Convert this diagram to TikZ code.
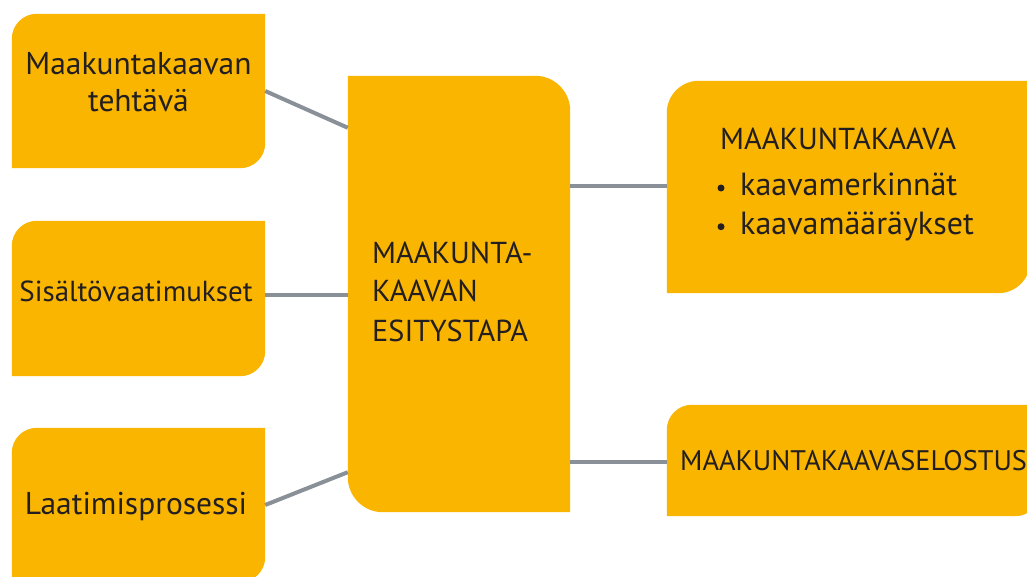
\documentclass[tikz,border=0pt]{standalone}
\usepackage{fontspec}
\setmainfont{PT Sans}
\usetikzlibrary{backgrounds,calc}
\definecolor{boxfill}{RGB}{249,181,0}
\definecolor{linkgray}{RGB}{137,144,152}
\definecolor{txt}{RGB}{35,31,32}
\newcommand\shapeTLBR[2]{%
  \fill[boxfill] (#1.south west) -- ([yshift=-#2]#1.north west)
    arc[start angle=180,end angle=90,radius=#2] -- (#1.north east)
    -- ([yshift=#2]#1.south east) arc[start angle=0,end angle=-90,radius=#2] -- cycle;}
\newcommand\shapeTRBL[2]{%
  \fill[boxfill] (#1.north west) -- ([xshift=-#2]#1.north east)
    arc[start angle=90,end angle=0,radius=#2] -- (#1.south east)
    -- ([xshift=#2]#1.south west) arc[start angle=270,end angle=180,radius=#2] -- cycle;}
\begin{document}
\begin{tikzpicture}[x=1pt,y=1pt,
  boxnode/.style={rectangle,inner sep=0pt},
  lbl/.style={inner sep=0pt,text=txt,anchor=base},
  lblw/.style={lbl,anchor=base west},
  bul/.style={circle,fill=txt,inner sep=0pt,minimum size=7pt},
  link/.style={draw=linkgray,line width=4pt}]
\useasboundingbox (0,0) rectangle (1027,576);
% boxes (pixel rows converted: y = 576 - row)
\node[boxnode,minimum width=253,minimum height=154] (b1) at (138.5,485) {};
\node[boxnode,minimum width=253,minimum height=155] (b2) at (138.5,277.5) {};
\node[boxnode,minimum width=253,minimum height=154] (b3) at (138.5,71) {};
\node[boxnode,minimum width=222,minimum height=436] (c) at (459,282) {};
\node[boxnode,minimum width=363,minimum height=212] (r1) at (848.5,389) {};
\node[boxnode,minimum width=373,minimum height=111] (r2) at (853.5,115.5) {};
\begin{scope}[on background layer]
  \fill[white] (0,0) rectangle (1027,576);
  \clip (0,0) rectangle (1027,576);
  \shapeTLBR{b1}{25pt}
  \shapeTLBR{b2}{25pt}
  \shapeTLBR{b3}{25pt}
  \shapeTRBL{c}{35pt}
  \shapeTLBR{r1}{32pt}
  \shapeTLBR{r2}{25pt}
\end{scope}
% texts
\node[lbl,font=\fontsize{31.5}{37}\selectfont] (t1a) at (138.5,501) {Maakuntakaavan};
\node[lbl,font=\fontsize{31.5}{37}\selectfont] (t1b) at (138.5,464) {tehtävä};
\node[lbl,font=\fontsize{29}{35}\selectfont] (t2) at (136,274.3) {Sisältövaatimukset};
\node[lbl,font=\fontsize{31.5}{37}\selectfont] (t3) at (136,61.7) {Laatimisprosessi};
\node[lblw,font=\fontsize{30.3}{38}\selectfont] (tc1) at (372,312) {MAAKUNTA-};
\node[lblw,font=\fontsize{30.3}{38}\selectfont] (tc2) at (372,274) {KAAVAN};
\node[lblw,font=\fontsize{30.3}{38}\selectfont] (tc3) at (372,235) {ESITYSTAPA};
\node[lblw,font=\fontsize{30.3}{38}\selectfont] (tr1) at (720,426) {MAAKUNTAKAAVA};
\node[lblw,font=\fontsize{32}{38}\selectfont] (tr2) at (740,380) {kaavamerkinnät};
\node[lblw,font=\fontsize{32}{38}\selectfont] (tr3) at (740,341) {kaavamääräykset};
\node[bul] (bu1) at (721,388) {};
\node[bul] (bu2) at (721,349.3) {};
\node[lblw,font=\fontsize{28.3}{35}\selectfont] (tr4) at (680,106) {MAAKUNTAKAAVASELOSTUS};
% connectors
\draw[link] (b1.east) -- ([yshift=-52pt]c.north west);
\draw[link] (b2.east |- 0,281) coordinate (b2e) -- (b2e -| c.west);
\draw[link] (b3.east) -- ([yshift=40pt]c.south west);
\draw[link] (c.east |- 0,390) coordinate (cr1) -- (cr1 -| r1.west);
\draw[link] (c.east |- 0,114) coordinate (cr2) -- (cr2 -| r2.west);
\end{tikzpicture}
\end{document}
